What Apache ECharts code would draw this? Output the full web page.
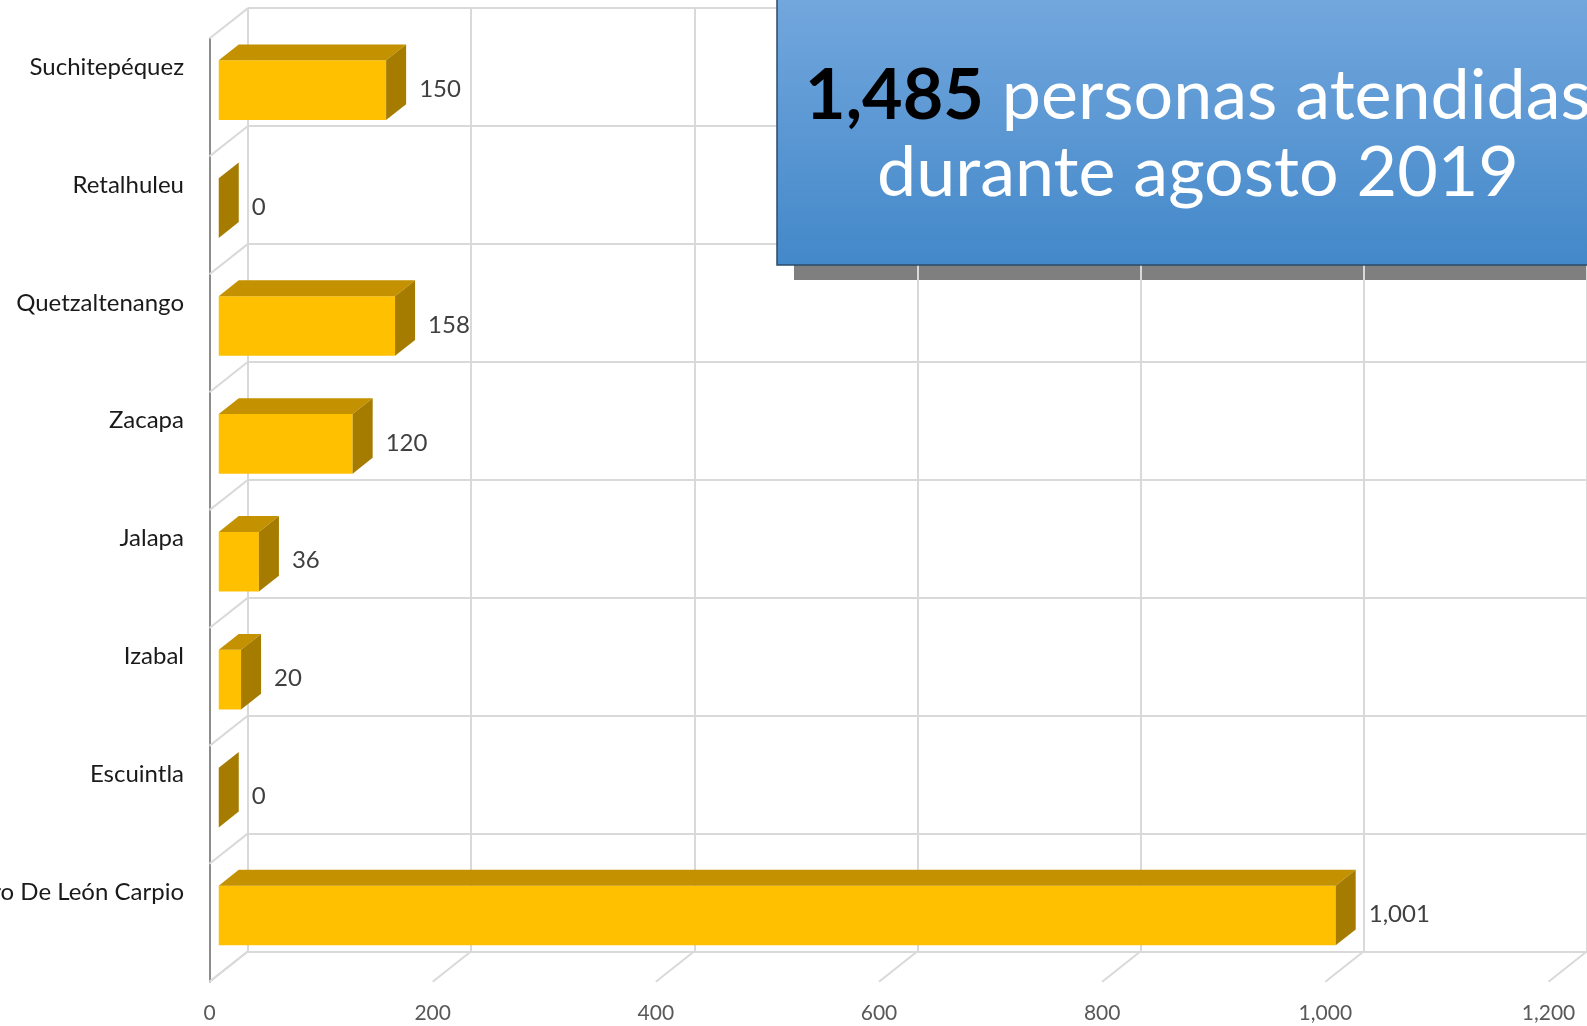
<!DOCTYPE html>
<html>
<head>
<meta charset="utf-8">
<title>Personas atendidas agosto 2019</title>
<script src="https://cdn.jsdelivr.net/npm/echarts@6/dist/echarts.min.js"></script>
<style>
  html, body { margin: 0; padding: 0; background: #fff; }
  #chart { width: 1587px; height: 1026px; }
</style>
</head>
<body>
<div id="chart"></div>
<script>
const categories = ['Suchitepéquez', 'Retalhuleu', 'Quetzaltenango', 'Zacapa', 'Jalapa', 'Izabal', 'Escuintla', 'Ramiro De León Carpio'];
const values = [150, 0, 158, 120, 36, 20, 0, 1001];
const xTicks = [0, 200, 400, 600, 800, 1000, 1200];
const totalText = '1,485';
const titleLine1 = 'personas atendidas';
const titleLine2 = 'durante agosto 2019';

// offset from front plane to back wall (3d depth), px
const DX = 38.5, DY = -30.4;
const FONT = 'Lato, "Noto Sans", sans-serif';
const GRID_COLOR = '#d9d9d9';

const fmt = v => Number(v).toLocaleString('en-US');

const chart = echarts.init(document.getElementById('chart'));

function renderBar(params, api) {
  const v = api.value(0), i = api.value(1);
  const band = api.size([0, 1])[1];
  const x0 = api.coord([0, i])[0];
  const x1 = api.coord([v, i])[0];
  const c = api.coord([0, i])[1];
  const h = band * 0.253;
  const d0 = 0.24, d1 = 0.76;
  const p = (x, y, d) => [x + d * DX, y + d * DY];
  const front = [p(x0, c - h, d0), p(x1, c - h, d0), p(x1, c + h, d0), p(x0, c + h, d0)];
  const top = [p(x0, c - h, d0), p(x1, c - h, d0), p(x1, c - h, d1), p(x0, c - h, d1)];
  const side = [p(x1, c - h, d0), p(x1, c - h, d1), p(x1, c + h, d1), p(x1, c + h, d0)];
  return {
    type: 'group',
    children: [
      { type: 'polygon', shape: { points: front }, style: { fill: '#FFC000' } },
      { type: 'polygon', shape: { points: top }, style: { fill: '#C49100' } },
      { type: 'polygon', shape: { points: side }, style: { fill: '#A67C00' } },
      {
        type: 'text',
        x: x1 + d1 * DX + 13,
        y: c + d0 * DY - 1,
        style: {
          text: fmt(v), fill: '#404040', font: '24px ' + FONT,
          align: 'left', verticalAlign: 'middle'
        }
      }
    ]
  };
}

// floor lines from front tick to back wall
function renderFloor(params, api) {
  const cs = params.coordSys;
  const x = api.coord([api.value(0), 0])[0];
  const y = cs.y + cs.height;
  return {
    type: 'line',
    shape: { x1: x, y1: y, x2: x + DX, y2: y + DY },
    style: { stroke: GRID_COLOR, lineWidth: 2 }
  };
}

// side wall lines at category boundaries
function renderWall(params, api) {
  const cs = params.coordSys;
  const y = cs.y + api.value(0) * cs.height / categories.length;
  return {
    type: 'line',
    shape: { x1: cs.x, y1: y, x2: cs.x + DX, y2: y + DY },
    style: { stroke: GRID_COLOR, lineWidth: 2 }
  };
}

const boundaries = categories.map((c, k) => k).concat([categories.length]);

const option = {
  backgroundColor: '#fff',
  animation: false,
  grid: [
    { left: 209.5, top: 38.5, width: 1339, height: 943.2, outerBoundsMode: 'none', containLabel: false },
    { left: 209.5 + DX, top: 38.5 + DY, width: 1339, height: 943.2, outerBoundsMode: 'none', containLabel: false }
  ],
  xAxis: [
    {
      type: 'value', gridIndex: 0, min: 0, max: 1200, interval: 200,
      axisLine: { show: false }, axisTick: { show: false }, splitLine: { show: false },
      axisLabel: { formatter: fmt, color: '#595959', fontSize: 21, fontFamily: FONT, margin: 21 }
    },
    {
      type: 'value', gridIndex: 1, min: 0, max: 1200, interval: 200,
      axisLine: { show: false }, axisTick: { show: false }, axisLabel: { show: false },
      splitLine: { show: true, lineStyle: { color: GRID_COLOR, width: 2 } }
    }
  ],
  yAxis: [
    {
      type: 'category', gridIndex: 0, data: categories, inverse: true,
      axisLine: { show: true, lineStyle: { color: '#8c8c8c', width: 2 } },
      axisTick: { show: false }, axisLabel: { show: false }, splitLine: { show: false }
    },
    {
      type: 'category', gridIndex: 1, data: categories, inverse: true,
      axisLine: { show: false }, axisTick: { show: false },
      axisLabel: { interval: 0, color: '#1a1a1a', fontSize: 24, fontFamily: FONT, margin: 64 },
      splitLine: { show: true, interval: 0, lineStyle: { color: GRID_COLOR, width: 2 } }
    }
  ],
  series: [
    {
      type: 'custom', xAxisIndex: 0, yAxisIndex: 0, z: 1, silent: true,
      data: xTicks.map(v => [v, 0]), renderItem: renderFloor
    },
    {
      type: 'custom', xAxisIndex: 0, yAxisIndex: 0, z: 1, silent: true,
      data: boundaries.map(k => [k]), encode: { x: -1, y: -1 }, renderItem: renderWall
    },
    {
      type: 'custom', xAxisIndex: 0, yAxisIndex: 0, z: 3,
      data: values.map((v, i) => [v, i]), encode: { x: 0, y: 1 }, renderItem: renderBar
    }
  ],
  graphic: [
    {
      type: 'rect', z: -1,
      shape: { x: 794, y: 240, width: 900, height: 40 },
      style: { fill: '#7f7f7f' }
    },
    {
      type: 'rect', z: 100,
      shape: { x: 777, y: -10, width: 900, height: 275 },
      style: {
        fill: new echarts.graphic.LinearGradient(0, 0, 0, 1, [
          { offset: 0, color: '#74a8de' },
          { offset: 1, color: '#4388c9' }
        ]),
        stroke: '#2d4a6a', lineWidth: 1.5
      }
    },
    {
      type: 'text', z: 101, x: 1198, y: 96,
      style: {
        text: '{b|' + totalText + '}{w| ' + titleLine1 + '}',
        align: 'center', verticalAlign: 'middle',
        rich: {
          b: { fill: '#000', font: 'bold 70px ' + FONT },
          w: { fill: '#fff', font: '70px ' + FONT }
        }
      }
    },
    {
      type: 'text', z: 101, x: 1198, y: 173,
      style: {
        text: titleLine2, fill: '#fff', font: '70px ' + FONT,
        align: 'center', verticalAlign: 'middle'
      }
    }
  ]
};

chart.setOption(option);
</script>
</body>
</html>
